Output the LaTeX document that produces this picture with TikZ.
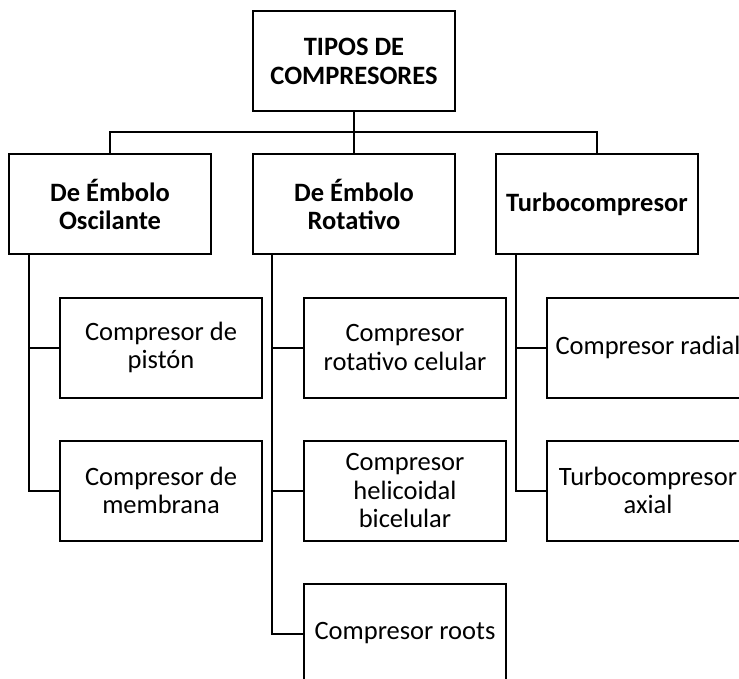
\documentclass[tikz,border=0pt]{standalone}
\usepackage{fontspec}
\setmainfont{Carlito}
\usetikzlibrary{positioning}

\begin{document}
\begin{tikzpicture}[x=1pt,y=1pt,node distance=143pt,line width=2pt]

  \tikzstyle{box}=[rectangle,draw,align=center,minimum width=202pt,
                   minimum height=100pt,inner sep=1pt,
                   font=\fontsize{26.5}{28.5}\selectfont]
  \tikzstyle{head}=[box,font=\fontsize{26.5}{28.5}\selectfont\bfseries]

  \clip (0,0) rectangle (739,-679);

  \node[head] (TIP) at (354,-61.5) {TIPOS DE \\ COMPRESORES};

  \node[head] (ROT) [below of=TIP]                    {De Émbolo \\ Rotativo};
  \node[head] (OSC) [left of=ROT,node distance=244pt]  {De Émbolo \\ Oscilante};
  \node[head] (TUR) [right of=ROT,node distance=243pt] {Turbocompresor};

  \node[box] (PIS) [below of=OSC,xshift=51pt] {Compresor de \\ pistón};
  \node[box] (MEM) [below of=PIS]             {Compresor de \\ membrana};

  \node[box] (CEL) [below of=ROT,xshift=51pt] {Compresor \\ rotativo celular};
  \node[box] (HEL) [below of=CEL]             {Compresor \\ helicoidal \\ bicelular};
  \node[box] (ROO) [below of=HEL]             {Compresor roots};

  \node[box] (RAD) [below of=TUR,xshift=51pt] {Compresor radial};
  \node[box] (AXI) [below of=RAD]             {Turbocompresor \\ axial};

  % arbol
  \draw (TIP.south) -- (ROT.north);
  \draw (OSC.north) -- ++(0,21) -| (TUR.north);

  \draw ([xshift=21pt]OSC.south west) |- (PIS.west);
  \draw ([xshift=21pt]OSC.south west) |- (MEM.west);

  \draw ([xshift=20pt]ROT.south west) |- (CEL.west);
  \draw ([xshift=20pt]ROT.south west) |- (HEL.west);
  \draw ([xshift=20pt]ROT.south west) |- (ROO.west);

  \draw ([xshift=21pt]TUR.south west) |- (RAD.west);
  \draw ([xshift=21pt]TUR.south west) |- (AXI.west);
\end{tikzpicture}
\end{document}
